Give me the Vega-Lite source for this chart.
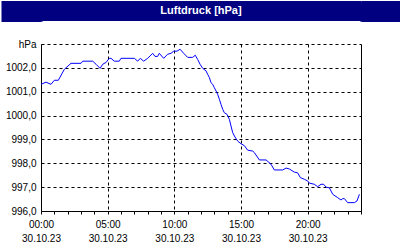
{
  "$schema": "https://vega.github.io/schema/vega-lite/v6.json",
  "background": "white",
  "padding": 0,
  "spacing": 17,
  "bounds": "full",
  "datasets": {
    "pressure": [
      {"hour": 0, "hPa": 1001.31},
      {"hour": 0.375, "hPa": 1001.4},
      {"hour": 0.75, "hPa": 1001.31},
      {"hour": 1.0, "hPa": 1001.48},
      {"hour": 1.3, "hPa": 1001.48},
      {"hour": 1.75, "hPa": 1001.94},
      {"hour": 2.25, "hPa": 1002.19},
      {"hour": 3.0, "hPa": 1002.19},
      {"hour": 3.13, "hPa": 1002.28},
      {"hour": 3.88, "hPa": 1002.28},
      {"hour": 4.13, "hPa": 1002.15},
      {"hour": 4.43, "hPa": 1001.98},
      {"hour": 4.63, "hPa": 1002.15},
      {"hour": 4.88, "hPa": 1002.23},
      {"hour": 5.12, "hPa": 1002.4},
      {"hour": 5.25, "hPa": 1002.4},
      {"hour": 5.5, "hPa": 1002.28},
      {"hour": 5.87, "hPa": 1002.28},
      {"hour": 6.0, "hPa": 1002.4},
      {"hour": 7.0, "hPa": 1002.4},
      {"hour": 7.25, "hPa": 1002.28},
      {"hour": 7.45, "hPa": 1002.4},
      {"hour": 7.7, "hPa": 1002.28},
      {"hour": 8.0, "hPa": 1002.4},
      {"hour": 8.38, "hPa": 1002.61},
      {"hour": 8.55, "hPa": 1002.48},
      {"hour": 8.75, "hPa": 1002.48},
      {"hour": 8.87, "hPa": 1002.61},
      {"hour": 9.2, "hPa": 1002.4},
      {"hour": 9.5, "hPa": 1002.57},
      {"hour": 9.75, "hPa": 1002.61},
      {"hour": 9.95, "hPa": 1002.7},
      {"hour": 10.2, "hPa": 1002.7},
      {"hour": 10.43, "hPa": 1002.78},
      {"hour": 10.7, "hPa": 1002.61},
      {"hour": 11.0, "hPa": 1002.44},
      {"hour": 11.38, "hPa": 1002.44},
      {"hour": 11.57, "hPa": 1002.53},
      {"hour": 11.75, "hPa": 1002.35},
      {"hour": 11.93, "hPa": 1002.15},
      {"hour": 12.13, "hPa": 1001.98},
      {"hour": 12.38, "hPa": 1001.87},
      {"hour": 12.5, "hPa": 1001.73},
      {"hour": 12.63, "hPa": 1001.59},
      {"hour": 12.75, "hPa": 1001.38},
      {"hour": 12.88, "hPa": 1001.31},
      {"hour": 13.0, "hPa": 1001.17},
      {"hour": 13.13, "hPa": 1001.03},
      {"hour": 13.25, "hPa": 1000.89},
      {"hour": 13.38, "hPa": 1000.68},
      {"hour": 13.5, "hPa": 1000.47},
      {"hour": 13.63, "hPa": 1000.26},
      {"hour": 13.75, "hPa": 1000.12},
      {"hour": 13.95, "hPa": 1000.05},
      {"hour": 14.13, "hPa": 999.84},
      {"hour": 14.25, "hPa": 999.56},
      {"hour": 14.38, "hPa": 999.28},
      {"hour": 14.55, "hPa": 999.1},
      {"hour": 14.75, "hPa": 998.93},
      {"hour": 15.0, "hPa": 998.82},
      {"hour": 15.25, "hPa": 998.74},
      {"hour": 15.5, "hPa": 998.55},
      {"hour": 15.88, "hPa": 998.51},
      {"hour": 16.0, "hPa": 998.45},
      {"hour": 16.38, "hPa": 998.14},
      {"hour": 16.88, "hPa": 998.14},
      {"hour": 17.25, "hPa": 997.96},
      {"hour": 17.5, "hPa": 997.72},
      {"hour": 18.13, "hPa": 997.72},
      {"hour": 18.38, "hPa": 997.8},
      {"hour": 18.63, "hPa": 997.76},
      {"hour": 19.0, "hPa": 997.63},
      {"hour": 19.25, "hPa": 997.6},
      {"hour": 19.45, "hPa": 997.4},
      {"hour": 19.75, "hPa": 997.33},
      {"hour": 20.0, "hPa": 997.26},
      {"hour": 20.12, "hPa": 997.17},
      {"hour": 20.5, "hPa": 997.12},
      {"hour": 20.75, "hPa": 997.02},
      {"hour": 21.0, "hPa": 997.12},
      {"hour": 21.2, "hPa": 997.12},
      {"hour": 21.38, "hPa": 997.0},
      {"hour": 21.63, "hPa": 996.97},
      {"hour": 21.88, "hPa": 996.7},
      {"hour": 22.25, "hPa": 996.56},
      {"hour": 22.5, "hPa": 996.46},
      {"hour": 22.63, "hPa": 996.52},
      {"hour": 22.75, "hPa": 996.52},
      {"hour": 23.0, "hPa": 996.35},
      {"hour": 23.5, "hPa": 996.35},
      {"hour": 23.7, "hPa": 996.42},
      {"hour": 23.88, "hPa": 996.7}
    ]
  },
  "vconcat": [
    {
      "width": 320,
      "height": 20,
      "view": {"fill": "#000080", "stroke": null},
      "data": {"values": [{"title": "Luftdruck [hPa]", "pos": 0.5}]},
      "layer": [
        {
          "mark": {"type": "text", "font": "Liberation Sans", "fontSize": 11, "fontWeight": "bold", "color": "white", "align": "center", "baseline": "middle"},
          "encoding": {
            "text": {"field": "title"},
            "y": {
              "field": "pos",
              "type": "quantitative",
              "scale": {"domain": [0, 1], "nice": false, "zero": false},
              "axis": {"orient": "left", "title": null, "values": [0, 0.05, 0.1, 0.15, 0.2, 0.25, 0.3, 0.35, 0.4, 0.45, 0.5, 0.55, 0.6, 0.65, 0.7, 0.75, 0.8, 0.85, 0.9, 0.95, 1], "labels": false, "domain": true, "domainColor": "#000080", "domainWidth": 3, "grid": false, "ticks": true, "tickSize": 40, "tickWidth": 1, "tickColor": "#000080", "tickCap": "butt", "tickRound": true}
            }
          }
        },
        {
          "mark": {"type": "text", "opacity": 0},
          "encoding": {
            "text": {"value": ""},
            "y": {
              "field": "pos",
              "type": "quantitative",
              "axis": {"orient": "right", "title": null, "values": [0, 0.05, 0.1, 0.15, 0.2, 0.25, 0.3, 0.35, 0.4, 0.45, 0.5, 0.55, 0.6, 0.65, 0.7, 0.75, 0.8, 0.85, 0.9, 0.95, 1], "labels": false, "domain": true, "domainColor": "#000080", "domainWidth": 3, "grid": false, "ticks": true, "tickSize": 40, "tickWidth": 1, "tickColor": "#000080", "tickCap": "butt", "tickRound": true}
            }
          }
        }
      ],
      "resolve": {"axis": {"y": "independent"}}
    },
    {
      "width": 320,
      "height": 167,
      "view": {"stroke": null, "fill": "white"},
      "data": {"name": "pressure"},
      "mark": {"type": "line", "color": "#0000ff", "strokeWidth": 1, "interpolate": "linear"},
      "encoding": {
        "x": {
          "field": "hour",
          "type": "quantitative",
          "scale": {"domain": [0, 24], "nice": false, "zero": false},
          "axis": {
            "title": null,
            "values": [0,1,2,3,4,5,6,7,8,9,10,11,12,13,14,15,16,17,18,19,20,21,22,23,24],
            "labelExpr": "datum.value % 5 === 0 && datum.value < 24 ? [(datum.value < 10 ? '0' : '') + datum.value + ':00', '30.10.23'] : ''",
            "labelOverlap": false,
            "labelFlush": false,
            "labelBound": false,
            "labelFont": "Liberation Sans",
            "labelFontSize": 10,
            "labelColor": "black",
            "labelLineHeight": 14,
            "labelPadding": 5,
            "ticks": true,
            "tickSize": 3,
            "tickColor": "black",
            "tickWidth": 1,
            "domain": true,
            "domainColor": "black",
            "domainWidth": 1,
            "grid": true,
            "gridColor": "black",
            "gridWidth": 1,
            "gridDash": {"condition": {"test": "datum.value === 24", "value": []}, "value": [3, 3]},
            "gridOpacity": {"condition": {"test": "datum.value % 5 === 0 || datum.value === 24", "value": 1}, "value": 0}
          }
        },
        "y": {
          "field": "hPa",
          "type": "quantitative",
          "scale": {"domain": [996, 1003], "nice": false, "zero": false},
          "axis": {
            "title": null,
            "values": [996, 997, 998, 999, 1000, 1001, 1002, 1003],
            "labelExpr": "datum.value === 1003 ? 'hPa' : replace(format(datum.value, '.1f'), '.', ',')",
            "labelFont": "Liberation Sans",
            "labelFontSize": 10,
            "labelColor": "black",
            "labelPadding": 5,
            "labelFlush": false,
            "labelOverlap": false,
            "ticks": false,
            "tickSize": 0,
            "domain": true,
            "domainColor": "black",
            "domainWidth": 1,
            "grid": true,
            "gridColor": "black",
            "gridWidth": 1,
            "gridDash": [3, 3],
            "minExtent": 40,
            "maxExtent": 40
          }
        }
      }
    }
  ]
}
